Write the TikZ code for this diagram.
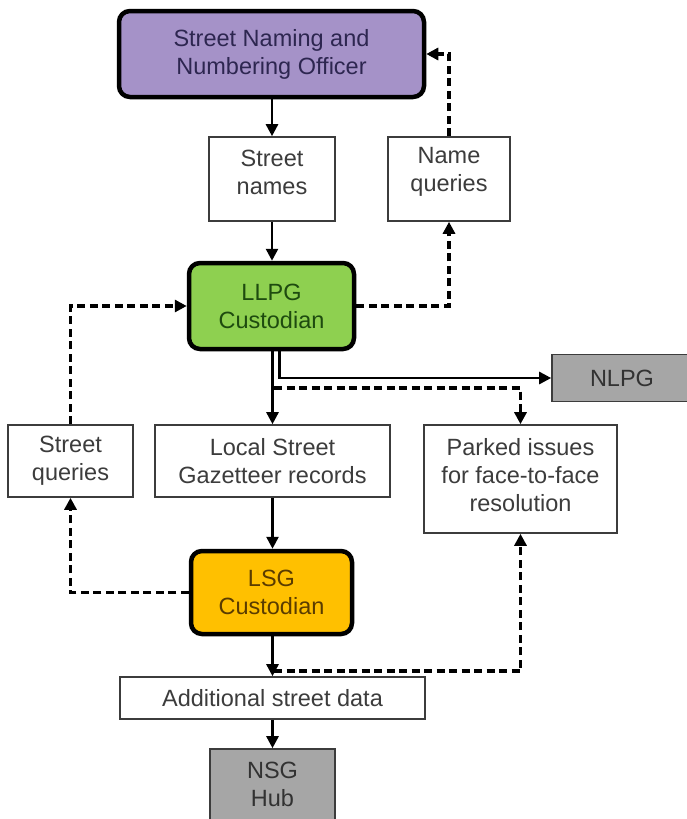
\documentclass[tikz,border=0pt]{standalone}
\usepackage{fontspec}
\setmainfont{Liberation Sans}
\usetikzlibrary{arrows.meta}
\definecolor{purplefill}{RGB}{165,146,200}
\definecolor{purpletext}{RGB}{45,38,80}
\definecolor{greenfill}{RGB}{142,208,80}
\definecolor{greentext}{RGB}{30,75,15}
\definecolor{orangefill}{RGB}{255,192,0}
\definecolor{orangetext}{RGB}{90,60,0}
\definecolor{grayfill}{RGB}{166,166,166}
\definecolor{graytext}{RGB}{50,50,50}
\definecolor{boxtext}{RGB}{60,60,60}
\definecolor{boxline}{RGB}{60,60,60}
\begin{document}
\begin{tikzpicture}[x=1pt,y=-1pt,
  every node/.style={font=\fontsize{23.5}{28}\selectfont, align=center, inner sep=0pt},
  rbox/.style={draw=black, line width=4.5pt, rounded corners=11pt},
  wbox/.style={draw=boxline, line width=1.6pt, fill=white, text=boxtext},
  gbox/.style={draw=boxline, line width=1.6pt, fill=grayfill, text=graytext},
  arr/.style={line width=2.6pt, -{Triangle[length=12pt,width=12pt]}},
  darr/.style={line width=3.4pt, dash pattern=on 8pt off 4.5pt, -{Triangle[length=12pt,width=12pt]}}
]
\useasboundingbox (0,0) rectangle (686,819);
% nodes
\node (snno) [rbox, fill=purplefill, text=purpletext, minimum width=305, minimum height=86] at (271.5,54) {Street Naming and\\Numbering Officer};
\node (names) [wbox, minimum width=126, minimum height=84] at (272,179) {};
\node (namestext) [text=boxtext] at (272,172) {Street\\names};
\node (nameq) [wbox, minimum width=122, minimum height=84] at (449,179) {};
\node (nameqtext) [text=boxtext] at (449,172) {Name\\queries};
\node (llpg) [rbox, fill=greenfill, text=greentext, minimum width=165, minimum height=86] at (271.5,306) {LLPG\\Custodian};
\node (nlpg) [gbox, minimum width=140, minimum height=47, text width=140] at (622,378) {NLPG};
\node (sq) [wbox, minimum width=125, minimum height=72] at (70.5,461) {Street\\queries};
\node (lsgr) [wbox, minimum width=235, minimum height=72] at (272.5,461) {Local Street\\Gazetteer records};
\node (parked) [wbox, minimum width=193, minimum height=108] at (520.5,479) {};
\node (parkedtext) [text=boxtext] at (520.5,475) {Parked issues\\for face-to-face\\resolution};
\node (lsg) [rbox, fill=orangefill, text=orangetext, minimum width=161, minimum height=83] at (271.5,592.5) {LSG\\Custodian};
\node (add) [wbox, minimum width=305, minimum height=42] at (272.5,698) {Additional street data};
\node (nsg) [gbox, minimum width=125, minimum height=90] at (272.5,794) {};
\node (nsgtext) [text=graytext] at (272.5,784) {NSG\\Hub};
% connectors
\draw[arr] (names.north |- snno.south) -- (names.north);
\draw[darr] (nameq.north) |- (snno.east);
\draw[arr] (names.south) -- (names.south |- llpg.north);
\draw[darr] (llpg.east) -| (nameq.south);
\draw[darr] (sq.north) |- (llpg.west);
\draw[arr] (lsgr.north |- llpg.south) -- (lsgr.north);
\draw[arr] ([xshift=8pt]llpg.south) |- (nlpg.west);
\coordinate (d1) at (274,388);
\draw[darr] (d1) -| (parked.north);
\draw[arr] (lsgr.south) -- (lsgr.south |- lsg.north);
\draw[darr] (lsg.west) -| (sq.south);
\draw[arr] (add.north |- lsg.south) -- (add.north);
\coordinate (d2) at (274,671);
\draw[darr] (d2) -| (parked.south);
\draw[arr] (add.south) -- (add.south |- nsg.north);
\end{tikzpicture}
\end{document}
